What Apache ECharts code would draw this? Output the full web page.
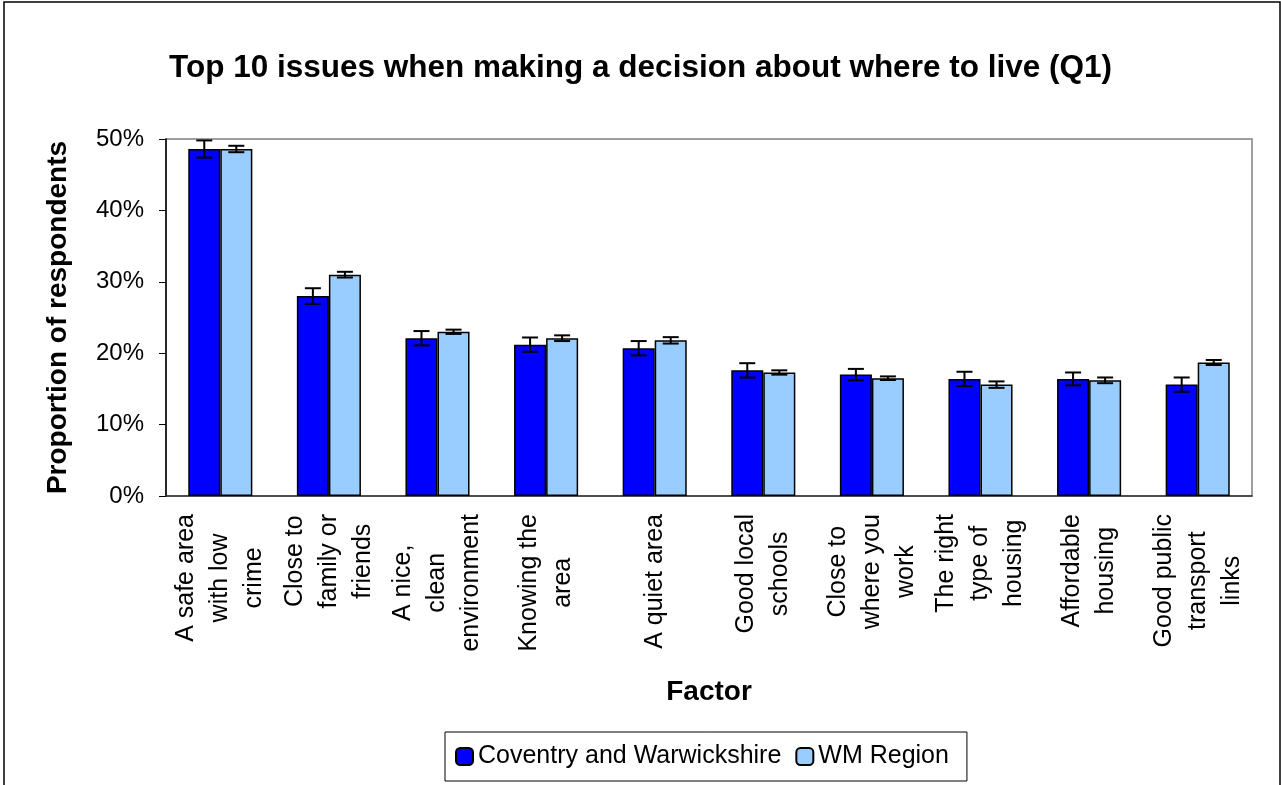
<!DOCTYPE html>
<html lang="en">
<head>
    <meta charset="UTF-8">
    <title>Top 10 issues</title>
    <script src="https://cdn.jsdelivr.net/npm/echarts@6/dist/echarts.min.js"></script>
    <style>
        html, body { margin: 0; padding: 0; background: #fff; }
    </style>
</head>
<body>
    <div id="ec" style="width:1281px;height:785px"></div>
</body>
<script>
    // factor labels (line breaks as drawn under the axis)
    var factors = [
        'A safe area\nwith low\ncrime',
        'Close to\nfamily or\nfriends',
        'A nice,\nclean\nenvironment',
        'Knowing the\narea',
        'A quiet area',
        'Good local\nschools',
        'Close to\nwhere you\nwork',
        'The right\ntype of\nhousing',
        'Affordable\nhousing',
        'Good public\ntransport\nlinks'
    ]
    var seriesNames = ['Coventry and Warwickshire', 'WM Region']
    // % of respondents
    var coventry = [48.6, 28.0, 22.1, 21.2, 20.7, 17.6, 17.0, 16.4, 16.4, 15.6]
    var wmRegion = [48.6, 31.0, 23.0, 22.1, 21.8, 17.3, 16.5, 15.6, 16.2, 18.7]
    // half width of the error bars
    var coventryErr = [1.2, 1.1, 1.0, 1.0, 1.0, 1.0, 0.8, 1.0, 0.9, 1.0]
    var wmRegionErr = [0.45, 0.4, 0.3, 0.4, 0.45, 0.3, 0.25, 0.45, 0.4, 0.35]
    var yTicks = [0, 10, 20, 30, 40, 50]

    var font = 'Liberation Sans, Arial, sans-serif'
    var barPct = 0.295

    function errData(vals, errs) {
        return vals.map(function(v, i) { return [i, v - errs[i], v + errs[i]] })
    }

    function errRender(offset) {
        return function(params, api) {
            var i = api.value(0)
            var bw = api.size([1, 0])[0]
            var lo = api.coord([i, api.value(1)])
            var hi = api.coord([i, api.value(2)])
            var x = lo[0] + offset * bw
            var cap = 8
            var st = { stroke: '#000', lineWidth: 2 }
            return {
                type: 'group',
                children: [
                    { type: 'line', shape: { x1: x, y1: lo[1], x2: x, y2: hi[1] }, style: st },
                    { type: 'line', shape: { x1: x - cap, y1: lo[1], x2: x + cap, y2: lo[1] }, style: st },
                    { type: 'line', shape: { x1: x - cap, y1: hi[1], x2: x + cap, y2: hi[1] }, style: st }
                ]
            }
        }
    }

    var mychart = echarts.init(document.getElementById('ec'))
    var options = {
        backgroundColor: '#fff',
        animation: false,
        textStyle: { fontFamily: font },
        title: {
            text: 'Top 10 issues when making a decision about where to live (Q1)',
            left: 'center',
            top: 52,
            padding: 0,
            textStyle: { fontSize: 31.5, fontWeight: 'bold', color: '#000', fontFamily: font }
        },
        graphic: [{
            type: 'rect',
            shape: { x: 4, y: 2, width: 1276, height: 800 },
            style: { fill: 'none', stroke: '#000', lineWidth: 1.5 },
            silent: true
        }],
        legend: {
            data: seriesNames,
            left: 445,
            top: 732,
            padding: [12, 18, 12, 10],
            itemWidth: 17,
            itemHeight: 17,
            itemGap: 14,
            borderColor: '#000',
            borderWidth: 1,
            backgroundColor: '#fff',
            textStyle: { fontSize: 25, color: '#000', fontFamily: font }
        },
        grid: {
            left: 166,
            right: 29,
            top: 139,
            bottom: 289,
            show: true,
            borderColor: '#808080',
            borderWidth: 1.5
        },
        xAxis: {
            type: 'category',
            data: factors,
            name: 'Factor',
            nameLocation: 'middle',
            nameGap: 182,
            nameTextStyle: { fontSize: 28, fontWeight: 'bold', color: '#000', fontFamily: font },
            axisLine: { lineStyle: { color: '#333', width: 1.5 } },
            axisTick: { length: 8, lineStyle: { color: '#333' } },
            axisLabel: {
                rotate: 90,
                margin: 18,
                interval: 0,
                formatter: function(v) {
                    return v.split('\n').map(function(s) { return '{c|' + s + '}' }).join('\n')
                },
                rich: {
                    c: { align: 'center', fontSize: 25, lineHeight: 34, color: '#000', fontFamily: font }
                }
            }
        },
        yAxis: {
            type: 'value',
            min: yTicks[0],
            max: yTicks[yTicks.length - 1],
            interval: 10,
            name: 'Proportion of respondents',
            nameLocation: 'middle',
            nameRotate: 90,
            nameGap: 94,
            nameTextStyle: { fontSize: 28, fontWeight: 'bold', color: '#000', fontFamily: font },
            splitLine: { show: false },
            axisLine: { show: true, lineStyle: { color: '#000', width: 1.5 } },
            axisTick: { show: true, length: 7, lineStyle: { color: '#000' } },
            axisLabel: { formatter: '{value}%', fontSize: 24, color: '#000', margin: 22, fontFamily: font }
        },
        series: [
            {
                name: seriesNames[0],
                type: 'bar',
                data: coventry,
                barWidth: (barPct * 100) + '%',
                barGap: '0%',
                itemStyle: { color: '#0000FF', borderColor: '#000', borderWidth: 1.5 }
            },
            {
                name: seriesNames[1],
                type: 'bar',
                data: wmRegion,
                barWidth: (barPct * 100) + '%',
                barGap: '0%',
                itemStyle: { color: '#99CCFF', borderColor: '#000', borderWidth: 1.5 }
            },
            {
                type: 'custom',
                name: 'err1',
                data: errData(coventry, coventryErr),
                renderItem: errRender(-barPct / 2),
                z: 10
            },
            {
                type: 'custom',
                name: 'err2',
                data: errData(wmRegion, wmRegionErr),
                renderItem: errRender(barPct / 2),
                z: 10
            }
        ]
    }
    mychart.setOption(options)
</script>
</html>
